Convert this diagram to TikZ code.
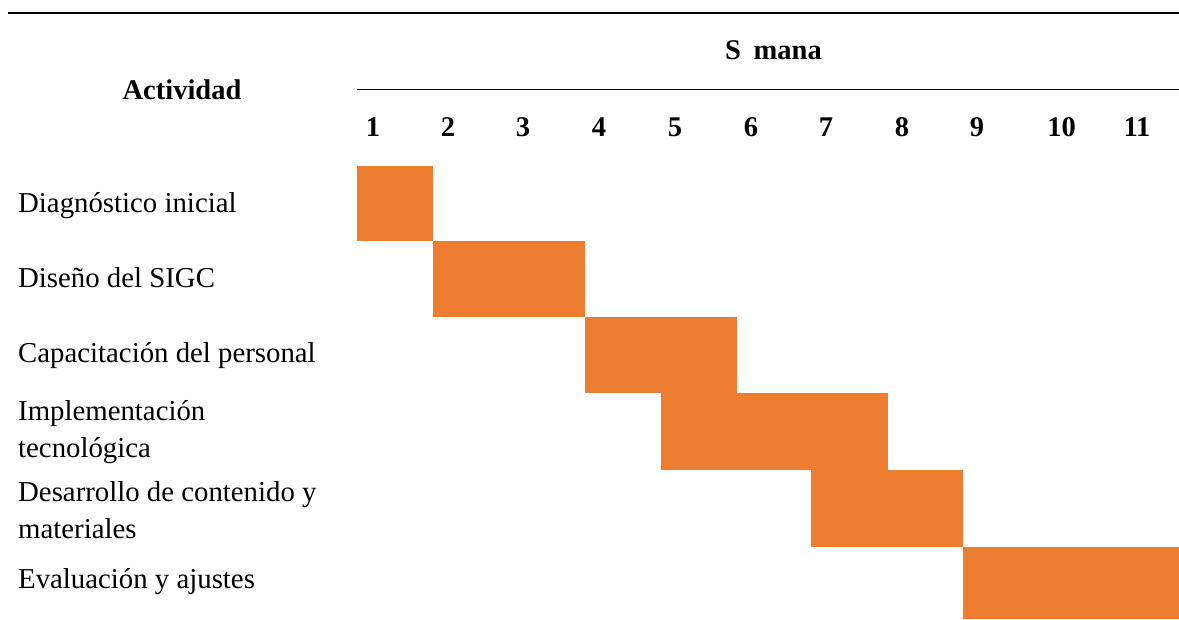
\documentclass[tikz,border=0pt]{standalone}
\usepackage{fontspec}
\setmainfont{Liberation Serif}
\usepackage{xcolor}
\definecolor{barorange}{RGB}{237,125,49}
\tikzset{
  lbl/.style={anchor=base west, inner sep=0pt, font=\fontsize{28.8}{37}\selectfont},
  hdr/.style={anchor=base, inner sep=0pt, font=\fontsize{28.5}{34}\selectfont\bfseries},
  bar/.style={fill=barorange, draw=none},
}
\begin{document}
\begin{tikzpicture}[x=1pt,y=-1pt]
\useasboundingbox (0,0) rectangle (1179,619);
% top rule
\draw[line width=2.6pt] (8,13) -- (1179,13);
% rule under Semana
\draw[line width=1pt] (357,89.5) -- (1179,89.5);
\draw[line width=1.8pt] (434,89.5) -- (660,89.5);
\draw[line width=1.8pt] (810,89.5) -- (887,89.5);
\draw[line width=1.8pt] (1038,89.5) -- (1114,89.5);
% headers
\node[hdr] (act) at (182,99) {Actividad};
\node[hdr] (sem) at (773.5,59) {S\textcolor{white}{e}mana};
\foreach \n/\x in {1/373,2/448,3/523,4/599,5/675,6/751,7/826,8/902,9/977,10/1061.5,11/1137}
  \node[hdr] (w\n) at (\x,136) {\n};
% row labels
\node[lbl] (r1) at (18,212) {Diagnóstico inicial};
\node[lbl] (r2) at (18,287.5) {Diseño del SIGC};
\node[lbl] (r3) at (18,362) {Capacitación del personal};
\node[lbl] (r4a) at (18,420) {Implementación};
\node[lbl] (r4b) at (18,457) {tecnológica};
\node[lbl] (r5a) at (18,501.5) {Desarrollo de contenido y};
\node[lbl] (r5b) at (18,538.5) {materiales};
\node[lbl] (r6) at (18,588.5) {Evaluación y ajustes};
% bars
\fill[bar] (357,166) rectangle (433,241);
\fill[bar] (433,241) rectangle (585,317);
\fill[bar] (585,317) rectangle (737,393);
\fill[bar] (661,393) rectangle (888,470);
\fill[bar] (811,470) rectangle (963,547);
\fill[bar] (963,547) rectangle (1179,619);
\end{tikzpicture}
\end{document}
